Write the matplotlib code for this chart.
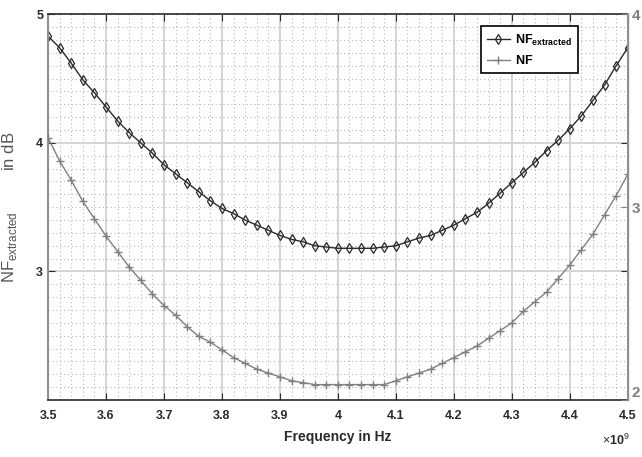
import numpy as np
import matplotlib
matplotlib.use('Agg')
import matplotlib.pyplot as plt
from matplotlib.ticker import MultipleLocator, FuncFormatter

plt.rcParams['font.family'] = ['Liberation Sans', 'DejaVu Sans']
plt.rcParams['mathtext.fontset'] = 'custom'
plt.rcParams['mathtext.rm'] = 'Liberation Sans'
plt.rcParams['mathtext.bf'] = 'Liberation Sans:bold'

# Data, frequency in Hz
freq = np.arange(3.5, 4.5001, 0.02) * 1e9

nf_extracted = [4.83, 4.74, 4.62, 4.49, 4.39, 4.28, 4.17, 4.08, 4.00, 3.92,
                3.83, 3.76, 3.69, 3.62, 3.55, 3.49, 3.45, 3.40, 3.36, 3.32,
                3.28, 3.25, 3.23, 3.20, 3.19, 3.18, 3.18, 3.18, 3.18, 3.19,
                3.20, 3.23, 3.26, 3.28, 3.32, 3.36, 3.41, 3.46, 3.53, 3.61,
                3.69, 3.77, 3.85, 3.94, 4.02, 4.11, 4.21, 4.33, 4.45, 4.60,
                4.74]

nf = [3.36, 3.24, 3.14, 3.03, 2.94, 2.85, 2.77, 2.69, 2.62, 2.55,
      2.49, 2.44, 2.38, 2.33, 2.30, 2.26, 2.22, 2.19, 2.16, 2.14,
      2.12, 2.10, 2.09, 2.08, 2.08, 2.08, 2.08, 2.08, 2.08, 2.08,
      2.10, 2.12, 2.14, 2.16, 2.19, 2.22, 2.25, 2.28, 2.32, 2.36,
      2.40, 2.46, 2.51, 2.56, 2.63, 2.70, 2.78, 2.86, 2.96, 3.06,
      3.17]

x_ticks = np.arange(3.5, 4.5001, 0.1) * 1e9
left_ticks = [3, 4, 5]
right_ticks = [2, 3, 4]

dark = '#2a2a2a'
light = '#808080'

fig = plt.figure(figsize=(6.42, 4.57), dpi=100)
ax = fig.add_axes([0.0748, 0.1247, 0.903, 0.844])
ax2 = ax.twinx()

l1, = ax.plot(freq, nf_extracted, '-', color=dark, lw=1.0, marker='d',
              markersize=5, markerfacecolor='none', markeredgewidth=0.9)
l2, = ax2.plot(freq, nf, '-', color=light, lw=1.0, marker='+',
               markersize=6, markeredgewidth=1.0)

ax.set_xlim(3.5e9, 4.5e9)
ax.set_ylim(2, 5)
ax2.set_ylim(2, 4)
ax.set_xticks(x_ticks)
ax.set_yticks(left_ticks)
ax2.set_yticks(right_ticks)

ax.xaxis.set_major_formatter(FuncFormatter(lambda v, p: '%g' % round(v / 1e9, 2)))
ax.text(0.955, -0.105, r'$\times$10$^{9}$', transform=ax.transAxes,
        fontsize=9, fontweight='bold', color=dark, ha='left', va='center')

ax.xaxis.set_minor_locator(MultipleLocator(0.02e9))
ax.yaxis.set_minor_locator(MultipleLocator(0.1))
ax.grid(which='major', color='#d4d4d4', lw=1.4, ls='-')
ax.grid(which='minor', color='#b8b8b8', lw=0.8, ls=(0, (1, 2.5)))
ax.set_axisbelow(True)

ax.tick_params(which='major', direction='in', length=5, top=True, right=True,
               labelsize=9, colors=dark)
ax.tick_params(axis='x', pad=7)
ax.tick_params(which='minor', length=0)
ax2.tick_params(direction='in', length=5, labelsize=11, colors=light, pad=3)
for lab in ax.get_xticklabels() + ax.get_yticklabels() + ax2.get_yticklabels():
    lab.set_fontweight('bold')
# the bottom right label sits just above the axis corner
ax2.get_yticklabels()[0].set_va('bottom')

for s in ['top', 'bottom']:
    ax.spines[s].set_color(dark)
    ax.spines[s].set_linewidth(1.2)
ax.spines['left'].set_color('#909090')
ax.spines['left'].set_linewidth(1.5)
ax2.spines['right'].set_color('#909090')
ax2.spines['right'].set_linewidth(1.5)
for s in ['top', 'bottom', 'left']:
    ax2.spines[s].set_visible(False)

ax.set_xlabel('Frequency in Hz', fontsize=10, fontweight='bold', color=dark,
              labelpad=6)
ax.set_ylabel(r'NF$_{\mathrm{extracted}}$         in dB', fontsize=12,
              color='#555555', labelpad=12)

leg = ax2.legend([l1, l2], [r'$\mathbf{NF_{extracted}}$', r'$\mathbf{NF}$'],
                 loc='upper right', bbox_to_anchor=(0.925, 0.985),
                 fancybox=False, edgecolor='black', framealpha=1,
                 fontsize=9, handlelength=1.8, handletextpad=0.4,
                 borderpad=0.5)
leg.get_frame().set_linewidth(1.2)

fig.savefig('out.png', dpi=100)
